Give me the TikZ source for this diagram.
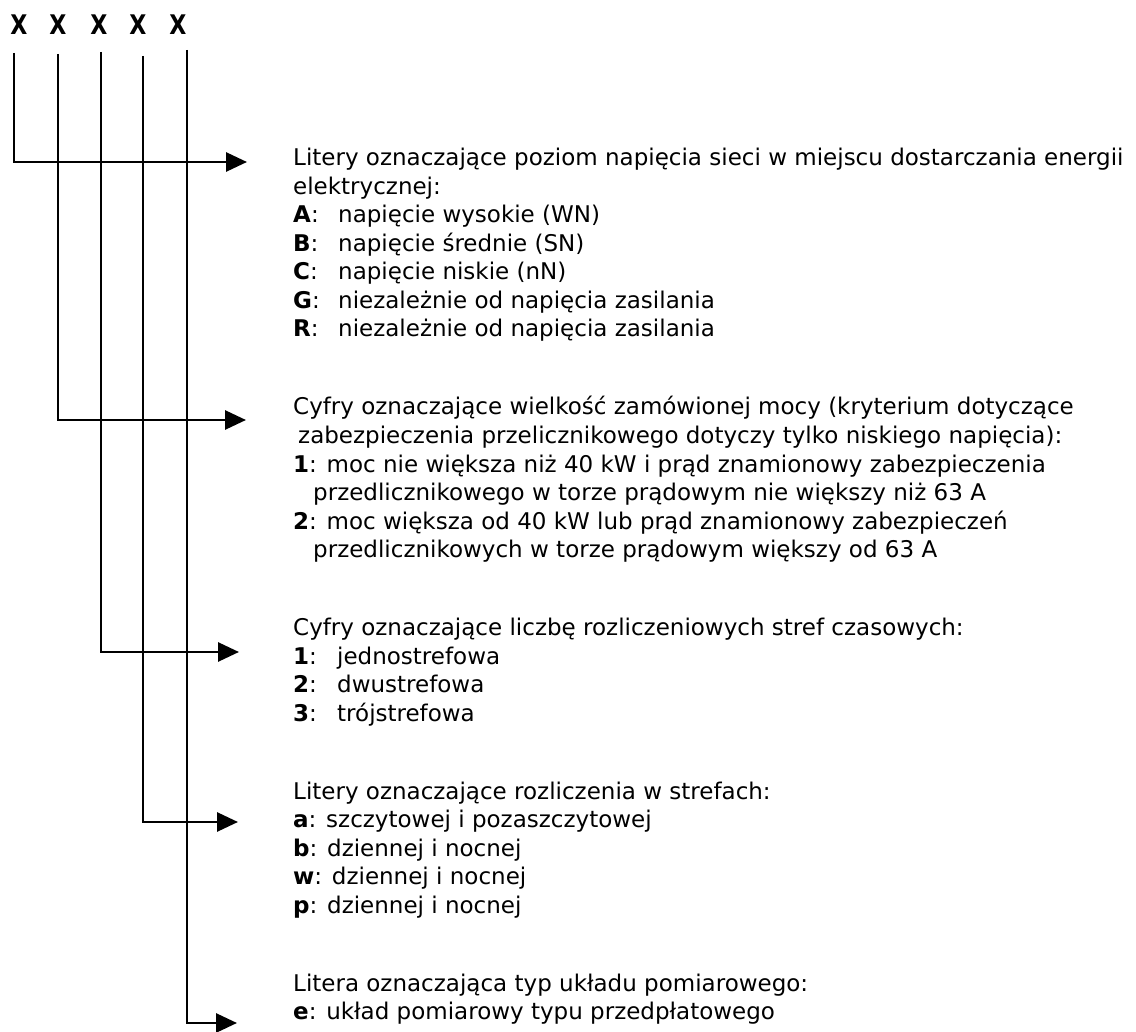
\documentclass[tikz,border=0pt]{standalone}
\usepackage{fontspec}
\setmainfont{DejaVu Sans}
\usetikzlibrary{arrows.meta}
\tikzset{
  txt/.style={anchor=base west, inner sep=0pt, font=\fontsize{23}{28.5}\selectfont},
  xlab/.style={anchor=base, inner sep=0pt, font=\fontsize{27}{30}\selectfont},
  conn/.style={line width=2.8pt, -{Triangle[length=21pt,width=19pt]}}
}
\newcommand{\lab}[2]{\makebox[#1][l]{\textbf{#2}:}}
\newcommand{\xletter}{\scalebox{0.82}[1]{\textbf{X}}}
\begin{document}
\begin{tikzpicture}[x=1pt,y=-1pt]
\useasboundingbox (0,0) rectangle (1136,1032);
% X labels
\node[xlab] (x1) at (19,35) {\xletter};
\node[xlab] (x2) at (58,35) {\xletter};
\node[xlab] (x3) at (99,35) {\xletter};
\node[xlab] (x4) at (138,35) {\xletter};
\node[xlab] (x5) at (178,35) {\xletter};
% line tops
\coordinate (t1) at (14,53);
\coordinate (t2) at (58,54);
\coordinate (t3) at (101,52);
\coordinate (t4) at (143,56);
\coordinate (t5) at (187,50);
% arrow ends
\coordinate (e1) at (247,162);
\coordinate (e2) at (246,420);
\coordinate (e3) at (239,652);
\coordinate (e4) at (238,822);
\coordinate (e5) at (237,1023);
% block 1
\node[txt] (b1a) at (293,166) {Litery oznaczające poziom napięcia sieci w miejscu dostarczania energii};
\node[txt] (b1b) at (293,194.5) {elektrycznej:};
\node[txt] (b1c) at (293,223) {\lab{45pt}{A}napięcie wysokie (WN)};
\node[txt] (b1d) at (293,251.5) {\lab{45pt}{B}napięcie średnie (SN)};
\node[txt] (b1e) at (293,280) {\lab{45pt}{C}napięcie niskie (nN)};
\node[txt] (b1f) at (293,308.5) {\lab{45pt}{G}niezależnie od napięcia zasilania};
\node[txt] (b1g) at (293,337) {\lab{45pt}{R}niezależnie od napięcia zasilania};
% block 2
\node[txt] (b2a) at (293,415) {Cyfry oznaczające wielkość zamówionej mocy (kryterium dotyczące};
\node[txt] (b2b) at (298,443.5) {zabezpieczenia przelicznikowego dotyczy tylko niskiego napięcia):};
\node[txt] (b2c) at (293,472) {\textbf{1}: moc nie większa niż 40 kW i prąd znamionowy zabezpieczenia};
\node[txt] (b2d) at (313,500.5) {przedlicznikowego w torze prądowym nie większy niż 63 A};
\node[txt] (b2e) at (293,529) {\textbf{2}: moc większa od 40 kW lub prąd znamionowy zabezpieczeń};
\node[txt] (b2f) at (313,557.5) {przedlicznikowych w torze prądowym większy od 63 A};
% block 3
\node[txt] (b3a) at (293,635.5) {Cyfry oznaczające liczbę rozliczeniowych stref czasowych:};
\node[txt] (b3b) at (293,664) {\lab{44pt}{1}jednostrefowa};
\node[txt] (b3c) at (293,692.5) {\lab{44pt}{2}dwustrefowa};
\node[txt] (b3d) at (293,721) {\lab{44pt}{3}trójstrefowa};
% block 4
\node[txt] (b4a) at (293,799) {Litery oznaczające rozliczenia w strefach:};
\node[txt] (b4b) at (293,827.5) {\textbf{a}: szczytowej i pozaszczytowej};
\node[txt] (b4c) at (293,856) {\textbf{b}: dziennej i nocnej};
\node[txt] (b4d) at (293,884.5) {\textbf{w}: dziennej i nocnej};
\node[txt] (b4e) at (293,913) {\textbf{p}: dziennej i nocnej};
% block 5
\node[txt] (b5a) at (293,991) {Litera oznaczająca typ układu pomiarowego:};
\node[txt] (b5b) at (293,1019.5) {\textbf{e}: układ pomiarowy typu przedpłatowego};
% connectors
\draw[conn] (t1) |- (e1);
\draw[conn] (t2) |- (e2);
\draw[conn] (t3) |- (e3);
\draw[conn] (t4) |- (e4);
\draw[conn] (t5) |- (e5);
\end{tikzpicture}
\end{document}
